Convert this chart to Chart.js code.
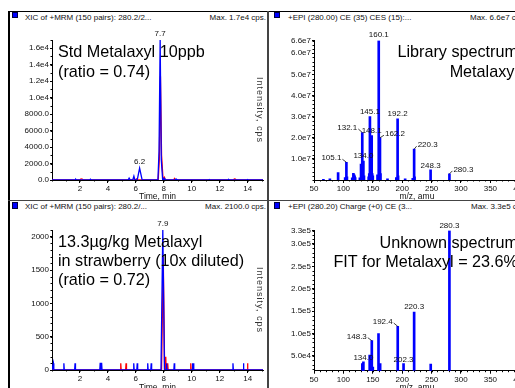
<!DOCTYPE html>
<html>
<head>
<meta charset="utf-8">
<script src="https://cdn.jsdelivr.net/npm/chart.js@4.4.1/dist/chart.umd.min.js"></script>
<style>
  html, body { margin: 0; padding: 0; overflow: hidden; }
  body { width: 515px; height: 388px; position: relative; background: #fff;
         font-family: "Liberation Sans", Arial, sans-serif; color: #000; }
  .abs { position: absolute; white-space: nowrap; }
  .hdr { font-size: 8px; line-height: 9px; color: #111; }
  .big { font-size: 16.2px; line-height: 19.5px; }
  .sq { position: absolute; width: 4px; height: 4px; background: #0000ff; border: 1px solid #000040; }
  .ax { font-size: 9px; line-height: 10px; width: 80px; text-align: center; color: #333;
        letter-spacing: 1px; transform: rotate(90deg); }
  canvas { position: absolute; }
</style>
</head>
<body>

<!-- frame -->
<div class="abs" style="left:8px;top:11px;width:520px;height:1px;background:#000"></div>
<div class="abs" style="left:8px;top:11px;width:2px;height:380px;background:#000"></div>
<div class="abs" style="left:267px;top:11px;width:2px;height:380px;background:#444"></div>
<div class="abs" style="left:8px;top:200px;width:520px;height:1px;background:#444"></div>

<!-- headers -->
<div class="sq" style="left:12px;top:12px"></div>
<div class="abs hdr" style="left:25px;top:13px">XIC of +MRM (150 pairs): 280.2/2...</div>
<div class="abs hdr" style="right:249px;top:13px">Max. 1.7e4 cps.</div>
<div class="sq" style="left:274px;top:12px"></div>
<div class="abs hdr" style="left:288px;top:13px">+EPI (280.00) CE (35) CES (15):...</div>
<div class="abs hdr" style="left:470px;top:13px">Max. 6.6e7 cps.</div>
<div class="sq" style="left:12px;top:202px;height:5px"></div>
<div class="abs hdr" style="left:25px;top:202px">XIC of +MRM (150 pairs): 280.2/...</div>
<div class="abs hdr" style="right:249px;top:202px">Max. 2100.0 cps.</div>
<div class="sq" style="left:274px;top:202px;height:5px"></div>
<div class="abs hdr" style="left:288px;top:202px">+EPI (280.20) Charge (+0) CE (3...</div>
<div class="abs hdr" style="left:471px;top:202px">Max. 3.3e5 cps.</div>

<canvas id="tl" width="256" height="182" style="left:10px;top:20px"></canvas>
<canvas id="tr" width="262" height="182" style="left:270px;top:20px"></canvas>
<canvas id="bl" width="256" height="183" style="left:10px;top:210px"></canvas>
<canvas id="br" width="262" height="183" style="left:270px;top:210px"></canvas>

<!-- right-hand axis titles of the left panels -->
<div class="abs ax" style="left:220px;top:105px">Intensity, cps</div>
<div class="abs ax" style="left:220px;top:295px">Intensity, cps</div>

<!-- annotations -->
<div class="abs big" style="left:58px;top:42px">Std Metalaxyl 10ppb<br>(ratio = 0.74)</div>
<div class="abs big" style="right:-3px;top:42px;text-align:right">Library spectrum<br>Metalaxyl</div>
<div class="abs big" style="left:58px;top:232px;line-height:19px">13.3µg/kg Metalaxyl<br>in strawberry (10x diluted)<br>(ratio = 0.72)</div>
<div class="abs big" style="right:-3px;top:233px;line-height:18.5px;text-align:right">Unknown spectrum<br>FIT for Metalaxyl = 23.6%</div>

<script>
// ---- data: standard chromatogram (top left) ----
const tlBlueT = [0, 1.65, 1.7, 1.75, 2.7, 2.75, 2.8, 5.45, 5.52, 5.6, 5.78, 5.86, 5.93, 6.1, 6.27, 6.45,
                 7.58, 7.66, 7.74, 7.82, 7.92, 7.98, 8.02, 8.08, 8.82, 8.88, 8.94, 11.2, 11.25, 11.3,
                 12.6, 12.65, 12.7, 13.95, 14.0, 14.05, 15.1];
const tlBlueI = [0, 0, 80, 0, 0, 100, 0, 0, 230, 0, 0, 460, 0, 0, 1430, 0,
                 0, 3500, 17000, 2500, 0, 0, 200, 0, 0, 120, 0, 0, 60, 0,
                 0, 60, 0, 0, 60, 0, 0];
const tlRedT = [0, 2.0, 2.08, 2.16, 2.24, 5.98, 6.04, 6.1, 7.6, 7.68, 7.76, 7.84, 7.95,
                8.0, 8.05, 8.1, 8.7, 8.77, 8.84, 12.98, 13.05, 13.12, 13.2, 15.1];
const tlRedI = [0, 0, 140, 120, 0, 0, 120, 0, 0, 2500, 12600, 3000, 0,
                0, 300, 0, 0, 180, 0, 0, 130, 100, 0, 0];
const tlPeakT = [6.27, 7.74];
const tlPeakI = [1430, 17000];
const tlPeakText = ['6.2', '7.7'];

// ---- data: strawberry chromatogram (bottom left) ----
const blBlueT = [0, 0.07, 0.1, 0.13, 0.82, 0.85, 0.88, 1.62, 1.65, 1.68, 3.42, 3.45, 3.48, 3.52, 3.55, 3.58,
                 5.82, 5.85, 5.88, 6.07, 6.1, 6.13, 6.82, 6.85, 6.88, 7.07, 7.1, 7.13, 7.8, 7.93, 8.05,
                 8.17, 8.2, 8.23, 8.72, 8.75, 8.78, 10.02, 10.05, 10.08, 10.1, 10.13, 10.16,
                 12.92, 12.95, 12.98, 13.67, 13.7, 13.73, 15.1];
const blBlueI = [0, 0, 100, 0, 0, 100, 0, 0, 100, 0, 0, 110, 0, 0, 110, 0,
                 0, 100, 0, 0, 100, 0, 0, 100, 0, 0, 100, 0, 0, 2100, 0,
                 0, 100, 0, 0, 100, 0, 0, 100, 0, 0, 100, 0,
                 0, 100, 0, 0, 100, 0, 0];
const blRedT = [0, 4.89, 4.92, 4.95, 5.27, 5.3, 5.33, 7.84, 7.96, 8.06, 8.11, 8.14, 8.17,
                8.25, 8.28, 8.31, 9.9, 9.93, 9.96, 13.96, 13.99, 14.02, 15.1];
const blRedI = [0, 0, 100, 0, 0, 100, 0, 0, 1700, 0, 0, 200, 0,
                0, 100, 0, 0, 100, 0, 0, 100, 0, 0];
const blPeakT = [7.93];
const blPeakI = [2100];
const blPeakText = ['7.9'];

// ---- data: library spectrum (top right) ----
const trMz = [66, 77, 91, 103, 105.1, 106, 115, 117, 118, 119, 120, 128, 130, 132.1, 134.0, 135, 143, 144,
              145.1, 146, 148.1, 149, 150, 158, 160.1, 161, 162.2, 163, 175, 190, 192.2, 193, 205, 218,
              220.3, 221, 248.3, 280.3];
const trInt = [3e5, 6e5, 3.5e6, 1.2e6, 8.4e6, 1.5e6, 1.0e6, 3.2e6, 2.6e6, 2.0e6, 1.2e6, 1.0e6, 7.5e6, 2.25e7, 9.0e6, 2.0e6, 1.5e6, 3.0e6,
               3.0e7, 4.0e6, 2.1e7, 3.0e6, 2.0e6, 2.5e6, 6.6e7, 5.0e6, 2.0e7, 3.0e6, 5e5, 1.2e6, 2.9e7, 2.0e6, 5e5, 8e5,
               1.46e7, 1.5e6, 4.8e6, 2.9e6];
const trLabelMz = [105.1, 132.1, 134.0, 145.1, 148.1, 160.1, 162.2, 192.2, 220.3, 248.3, 280.3];

// ---- data: unknown spectrum (bottom right) ----
const brMz = [132.2, 134.0, 144.7, 148.3, 150, 159.7, 161, 162.5, 192.4, 202.3, 220.3, 248.5, 280.3];
const brInt = [33000, 37000, 52000, 84000, 25000, 100000, 30000, 33000, 116000, 33000, 148000, 32000, 330000];
const brLabelMz = [134.0, 148.3, 192.4, 202.3, 220.3, 280.3];

// ---- tick labels ----
const timeTicks = [2, 4, 6, 8, 10, 12, 14];
const timeLabels = ['2', '4', '6', '8', '10', '12', '14'];
const mzTicks = [50, 100, 150, 200, 250, 300, 350, 400];
const mzLabels = ['50', '100', '150', '200', '250', '300', '350', '400'];
const tlYTicks = [0, 2000, 4000, 6000, 8000, 10000, 12000, 14000, 16000];
const tlYLabels = ['0.0', '2000.0', '4000.0', '6000.0', '8000.0', '1.0e4', '1.2e4', '1.4e4', '1.6e4'];
const blYTicks = [0, 500, 1000, 1500, 2000];
const blYLabels = ['0', '500', '1000', '1500', '2000'];
const trYTicks = [1e7, 2e7, 3e7, 4e7, 5e7, 6e7, 6.6e7];
const trYLabels = ['1.0e7', '2.0e7', '3.0e7', '4.0e7', '5.0e7', '6.0e7', '6.6e7'];
const brYTicks = [5e4, 1e5, 1.5e5, 2e5, 2.5e5, 3e5, 3.3e5];
const brYLabels = ['5.0e4', '1.0e5', '1.5e5', '2.0e5', '2.5e5', '3.0e5', '3.3e5'];

// label offsets (style only)
const trLabelDx = [-15, -15, 0, 0, 0, 0, 15, 0, 13.5, 0, 14];
const trLabelDy = [-4, -4.5, -5, -5, -5, -5.5, -3.5, -4.5, -4, -4.5, -4];
const brLabelDx = [0, -15, -15, 0, 0, 0];
const brLabelDy = [-4, -4, -4.3, -4, -5, -4.5];

const FONT = '"Liberation Sans", Arial, sans-serif';
const BLUE = '#0000ff';
const RED = '#ff0000';

const peakLabels = {
  id: 'peakLabels',
  afterDatasetsDraw(chart, args, opts) {
    const { ctx, scales: { x, y } } = chart;
    ctx.save();
    ctx.font = '8px ' + FONT;
    ctx.fillStyle = '#111';
    ctx.strokeStyle = '#111';
    ctx.lineWidth = 0.8;
    ctx.textAlign = 'center';
    ctx.textBaseline = 'middle';
    (opts.items || []).forEach(it => {
      const px = x.getPixelForValue(it.x);
      const py = y.getPixelForValue(it.y);
      const lx = px + it.dx, ly = py + it.dy;
      ctx.fillText(it.text, lx, ly);
      if (it.dx !== 0) {
        const w = ctx.measureText(it.text).width;
        const sx = it.dx < 0 ? lx + w / 2 + 1 : lx - w / 2 - 1;
        ctx.beginPath();
        ctx.moveTo(sx, ly + 1);
        ctx.lineTo(px, py);
        ctx.stroke();
      }
    });
    ctx.restore();
  }
};

const minorTicks = {
  id: 'minorTicks',
  afterDraw(chart, args, opts) {
    const { ctx, chartArea, scales: { x, y } } = chart;
    ctx.save();
    ctx.strokeStyle = '#000';
    ctx.lineWidth = 1;
    ctx.beginPath();
    if (opts.x) {
      for (let v = Math.ceil(x.min / opts.x) * opts.x; v <= x.max; v += opts.x) {
        const p = Math.round(x.getPixelForValue(v)) + 0.5;
        ctx.moveTo(p, chartArea.bottom);
        ctx.lineTo(p, chartArea.bottom + 1.5);
      }
    }
    if (opts.y) {
      for (let v = Math.ceil(y.min / opts.y) * opts.y; v <= y.max; v += opts.y) {
        const p = Math.round(y.getPixelForValue(v)) + 0.5;
        ctx.moveTo(chartArea.left, p);
        ctx.lineTo(chartArea.left - 1.5, p);
      }
    }
    ctx.stroke();
    ctx.restore();
  }
};

function axisOpts(min, max, ticks, labels, isX, title) {
  return {
    type: 'linear', min: min, max: max, offset: false,
    afterBuildTicks: s => { s.ticks = ticks.map(v => ({ value: v })); },
    ticks: {
      autoSkip: false, maxRotation: 0, minRotation: 0, padding: 1, color: '#111',
      font: { family: FONT, size: 8 },
      callback: v => labels[ticks.indexOf(v)]
    },
    grid: { display: true, drawOnChartArea: false, drawTicks: true, tickLength: isX ? 3 : 2,
            color: '#000', offset: false },
    border: { display: true, color: '#000', width: 1 },
    title: title ? { display: true, text: title, color: '#111', font: { family: FONT, size: 8.5 },
                     padding: 0 } : { display: false }
  };
}

// box = canvas position on page, area = wanted plot area on page
function makeChart(id, box, area, type, datasets, xAx, yAx, items, minor) {
  xAx.afterFit = s => { s.height = box.top + box.height - area.b; };
  yAx.afterFit = s => { s.width = area.l - box.left; };
  return new Chart(document.getElementById(id), {
    type: type,
    data: { datasets: datasets },
    options: {
      responsive: false,
      animation: false,
      layout: { padding: { top: area.t - box.top, right: box.left + box.width - area.r, left: 0, bottom: 0 } },
      scales: { x: xAx, y: yAx },
      plugins: {
        legend: { display: false },
        tooltip: { enabled: false },
        peakLabels: { items: items },
        minorTicks: minor
      }
    },
    plugins: [peakLabels, minorTicks]
  });
}

function pts(xs, ys) { return xs.map((v, i) => ({ x: v, y: ys[i] })); }

function lineSet(xs, ys, color) {
  return { data: pts(xs, ys), borderColor: color, borderWidth: 1.3, pointRadius: 0, tension: 0, fill: false };
}

function barSet(xs, ys) {
  return { data: pts(xs, ys), backgroundColor: BLUE, borderWidth: 0, barThickness: 2, grouped: false };
}

function chromLabels(ts, is, texts) {
  return ts.map((t, i) => ({ x: t, y: is[i], text: texts[i], dx: 0, dy: -6 }));
}

function specLabels(labelMz, mz, ints, dx, dy) {
  return labelMz.map((m, i) => ({ x: m, y: ints[mz.indexOf(m)], text: m.toFixed(1), dx: dx[i], dy: dy[i] }));
}

makeChart('tl', { left: 10, top: 20, width: 256, height: 182 }, { l: 52, t: 40, r: 263, b: 180 }, 'line',
  [lineSet(tlBlueT, tlBlueI, BLUE), lineSet(tlRedT, tlRedI, RED)],
  axisOpts(0, 15.1, timeTicks, timeLabels, true, 'Time, min'),
  axisOpts(0, 17000, tlYTicks, tlYLabels, false, null),
  chromLabels(tlPeakT, tlPeakI, tlPeakText), { x: 1, y: 1000 });

makeChart('bl', { left: 10, top: 210, width: 256, height: 183 }, { l: 52, t: 230, r: 263, b: 370 }, 'line',
  [lineSet(blBlueT, blBlueI, BLUE), lineSet(blRedT, blRedI, RED)],
  axisOpts(0, 15.1, timeTicks, timeLabels, true, 'Time, min'),
  axisOpts(0, 2100, blYTicks, blYLabels, false, null),
  chromLabels(blPeakT, blPeakI, blPeakText), { x: 1, y: 100 });

makeChart('tr', { left: 270, top: 20, width: 262, height: 182 }, { l: 314, t: 40.6, r: 519.8, b: 180 }, 'bar',
  [barSet(trMz, trInt)],
  axisOpts(50, 400, mzTicks, mzLabels, true, 'm/z, amu'),
  axisOpts(0, 6.6e7, trYTicks, trYLabels, false, null),
  specLabels(trLabelMz, trMz, trInt, trLabelDx, trLabelDy), { x: 10, y: 2e6 });

makeChart('br', { left: 270, top: 210, width: 262, height: 183 }, { l: 314, t: 230.5, r: 519.8, b: 370.7 }, 'bar',
  [barSet(brMz, brInt)],
  axisOpts(50, 400, mzTicks, mzLabels, true, 'm/z, amu'),
  axisOpts(17000, 330000, brYTicks, brYLabels, false, null),
  specLabels(brLabelMz, brMz, brInt, brLabelDx, brLabelDy), { x: 10, y: 10000 });
</script>
</body>
</html>
